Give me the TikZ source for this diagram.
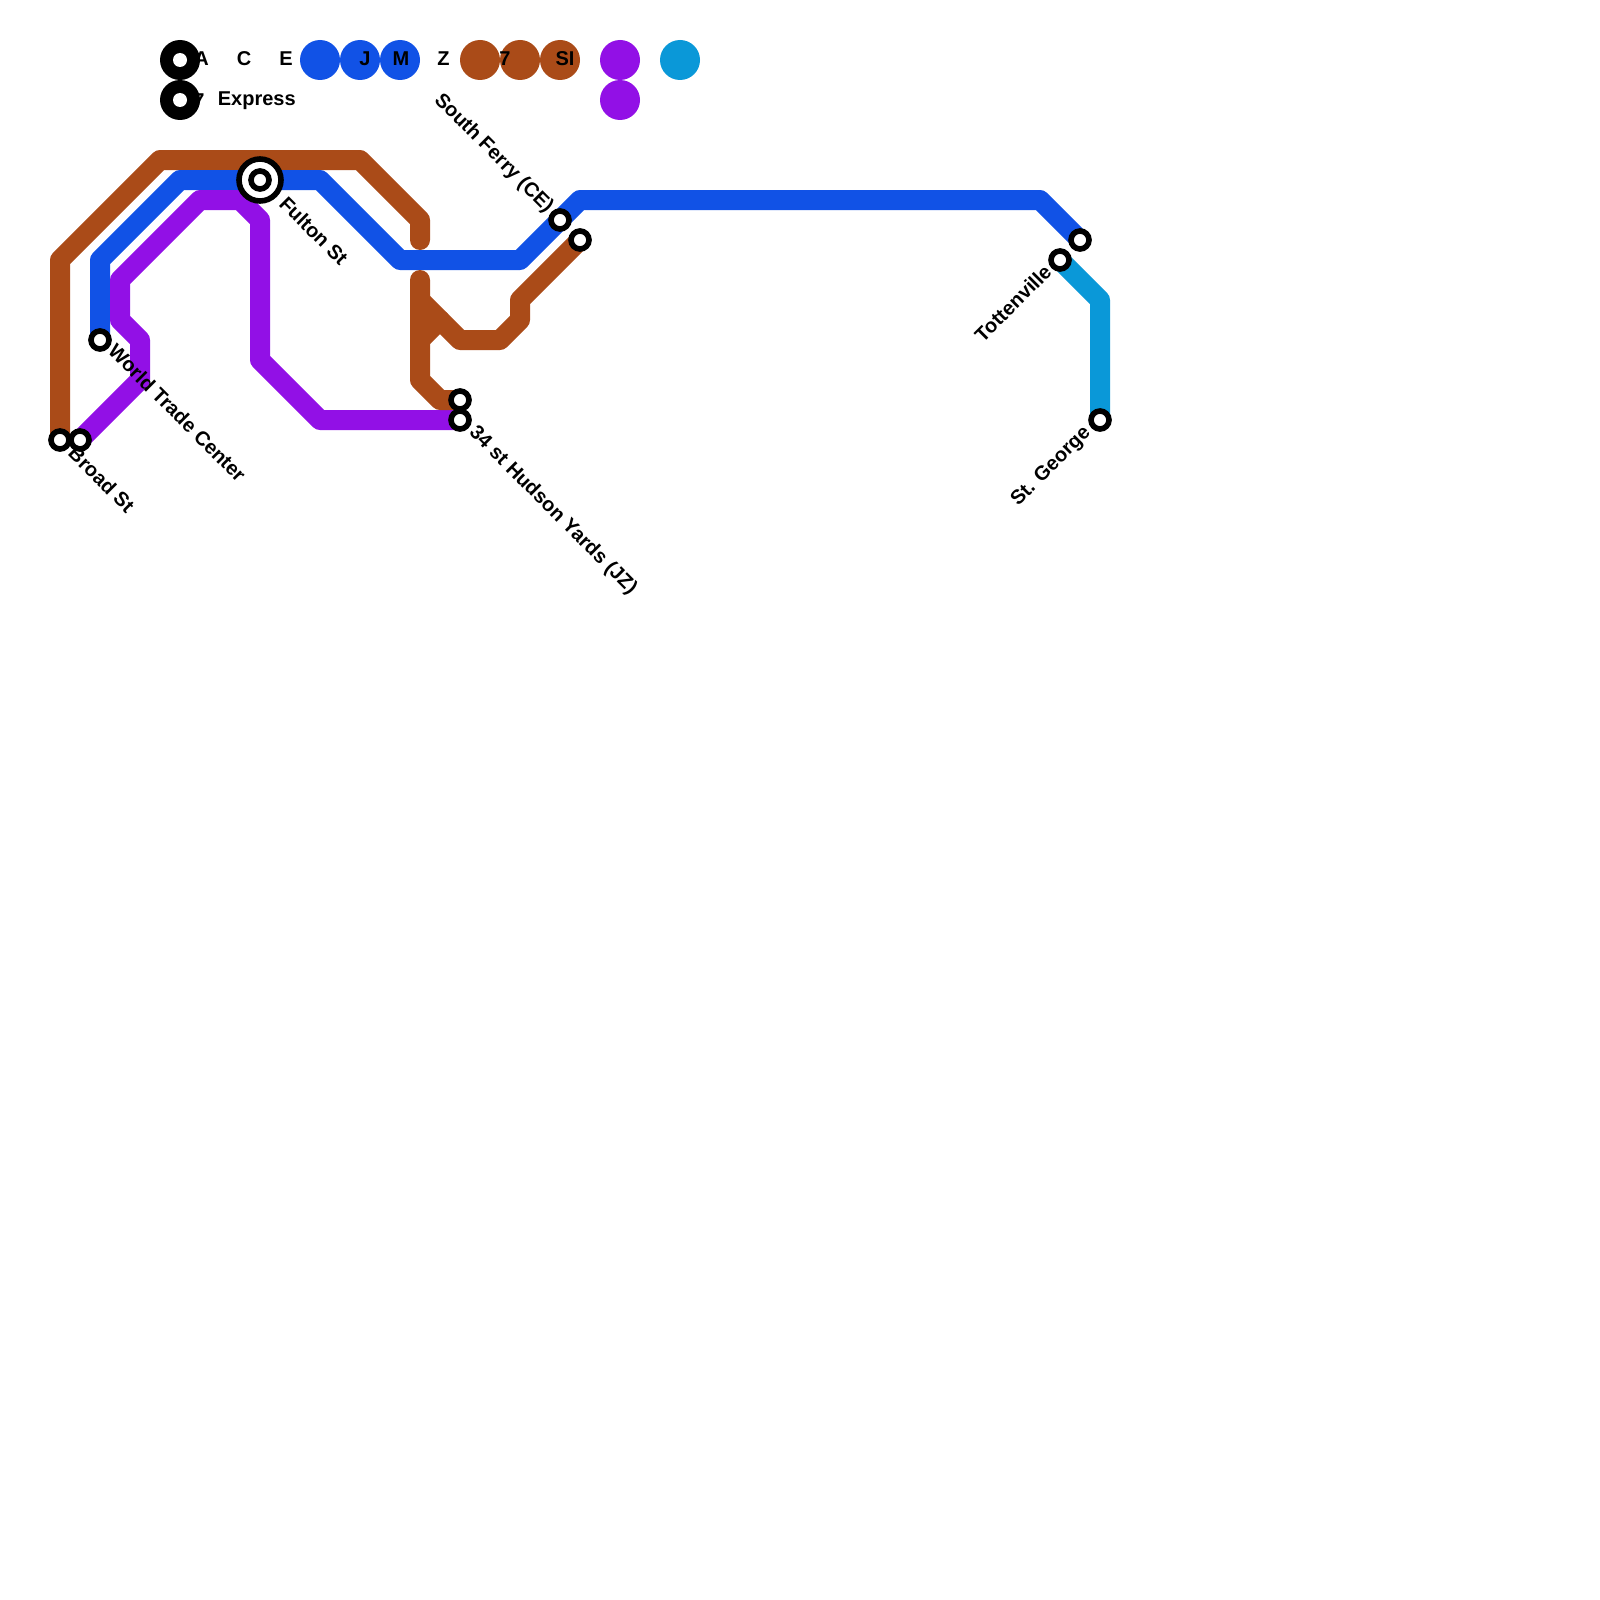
\documentclass[tikz,border=0pt]{standalone}
\usepackage{fontspec}
\setmainfont{Liberation Sans}
\definecolor{mtablue}{RGB}{17,82,230}
\definecolor{mtabrown}{RGB}{170,75,24}
\definecolor{mtapurple}{RGB}{146,16,230}
\definecolor{mtacyan}{RGB}{10,152,216}
\usetikzlibrary{positioning}

\begin{document}
\begin{tikzpicture}[x=0.5pt, y=-0.5pt, every node/.style={font=\bfseries\fontsize{10}{12}\selectfont, inner sep=0pt},
  route/.style={line width=10pt, line cap=round, line join=round},
  dot/.style={circle, minimum size=20pt},
  stn/.style={circle, draw=black, fill=white, line width=2.8pt, minimum size=9pt},
  hubouter/.style={circle, draw=black, fill=white, line width=2.8pt, minimum size=21pt},
  lbl/.style={text=black}]
\useasboundingbox (0,0) rectangle (1600,1600);
% Stop positions
\coordinate (broad) at (60,440);
\coordinate (broadb) at (80,440);
\coordinate (wtc) at (100,340);
\coordinate (fulton) at (260,180);
\coordinate (hudson) at (460,400);
\coordinate (hudsonb) at (460,420);
\coordinate (ferry) at (560,220);
\coordinate (ferryb) at (580,240);
\coordinate (totten) at (1060,260);
\coordinate (tottenb) at (1080,240);
\coordinate (george) at (1100,420);
% Legend dots
\node[dot, fill=black] (legA) at (180,60) {};
\node[dot, fill=black] (leg7x) at (180,100) {};
\node[dot, fill=mtablue] (legB) at (320,60) {};
\node[dot, fill=mtablue] (legJ) at (360,60) {};
\node[dot, fill=mtablue] (legM) at (400,60) {};
\node[dot, fill=mtabrown] (legN) at (480,60) {};
\node[dot, fill=mtabrown] (leg7) at (520,60) {};
\node[dot, fill=mtabrown] (legSI) at (560,60) {};
\node[dot, fill=mtapurple] (legP) at (620,60) {};
\node[dot, fill=mtapurple] (legQ) at (620,100) {};
\node[dot, fill=mtacyan] (legT) at (680,60) {};
\node[circle, fill=white, minimum size=7pt] (legAin) at (180,60) {};
\node[circle, fill=white, minimum size=7pt] (leg7xin) at (180,100) {};
% Routes
\draw[route, mtabrown] (broad) -- (60,260) -- (160,160) -- (360,160) -- (420,220) -- (420,240);
\draw[route, mtablue] (wtc) -- (100,260) -- (180,180) -- (320,180) -- (400,260) -- (520,260) -- (ferry) -- (580,200) -- (1040,200) -- (tottenb);
\draw[route, mtapurple] (broadb) -- (140,380) -- (140,340) -- (120,320) -- (120,280) -- (200,200) -- (240,200) -- (260,220) -- (260,360) -- (320,420) -- (hudsonb);
\draw[route, mtabrown] (420,280) -- (420,380) -- (440,400) -- (hudson);
\draw[route, mtabrown] (ferryb) -- (520,300) -- (520,320) -- (500,340) -- (460,340) -- (420,300);
\draw[route, mtabrown] (420,340) -- (440,320);
\draw[route, mtacyan] (totten) -- (1100,300) -- (george);
% Stops
\node[stn] (broadstn) at (broad) {};
\node[stn] (broadbstn) at (broadb) {};
\node[stn] (wtcstn) at (wtc) {};
\node[hubouter] (fultonout) at (fulton) {};
\node[stn] (fultonstn) at (fulton) {};
\node[stn] (hudsonstn) at (hudson) {};
\node[stn] (hudsonbstn) at (hudsonb) {};
\node[stn] (ferrystn) at (ferry) {};
\node[stn] (ferrybstn) at (ferryb) {};
\node[stn] (tottenstn) at (totten) {};
\node[stn] (tottenbstn) at (tottenb) {};
\node[stn] (georgestn) at (george) {};
% Legend text
\node[lbl] (txtA) at (201.5,59) {A};
\node[lbl] (txtC) at (244,59) {C};
\node[lbl] (txtE) at (286,59) {E};
\node[lbl] (txtJ) at (365,59) {J};
\node[lbl] (txtM) at (401,59) {M};
\node[lbl] (txtZ) at (443.5,59) {Z};
\node[lbl] (txt7) at (505,59) {7};
\node[lbl] (txtSI) at (565,59) {SI};
\node[lbl] (txt7x) at (199,101) {7};
\node[lbl, anchor=west] (txtex) at (217.5,101) {Express};
% Stop names
\node[lbl, rotate=-45, anchor=west] (nbroad) at (72,449.5) {Broad St};
\node[lbl, rotate=-45, anchor=west] (nwtc) at (112,347.5) {World Trade Center};
\node[lbl, rotate=-45, anchor=west] (nfulton) at (283,200) {Fulton St};
\node[lbl, rotate=-45, anchor=west] (nhudson) at (472,430) {34 st Hudson Yards (JZ)};
\node[lbl, rotate=-45, anchor=east] (nferry) at (550,210) {South Ferry (CE)};
\node[lbl, rotate=45, anchor=east] (ntotten) at (1048,268) {Tottenville};
\node[lbl, rotate=45, anchor=east] (ngeorge) at (1088,430) {St. George};
\end{tikzpicture}
\end{document}
